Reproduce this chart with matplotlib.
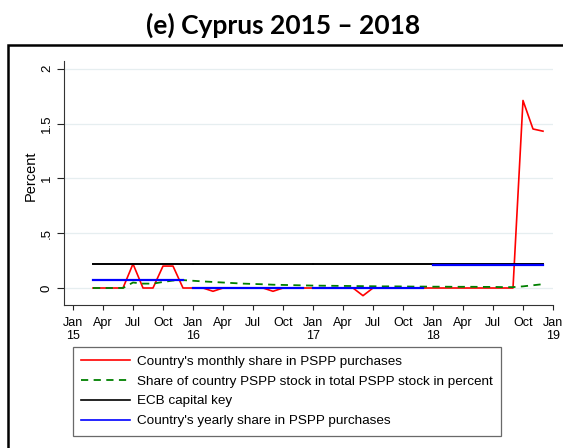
import matplotlib
matplotlib.use("Agg")
from matplotlib import pyplot as plt
from matplotlib.patches import Rectangle

# months counted from Jan 2015 (0 = Jan 15); data runs Mar 2015 .. Dec 2018
months = list(range(2, 48))

monthly_share = [0, 0, 0, 0, 0.22, 0, 0, 0.20, 0.20, 0,
                 0, 0, -0.03, 0, 0, 0, 0, 0, -0.03, 0, 0, 0,
                 0, 0, 0, 0, 0, -0.07, 0, 0, 0, 0, 0, 0,
                 0, 0, 0, 0, 0, 0, 0, 0, 0, 1.71, 1.45, 1.43]

stock_share = [0, 0, 0, 0, 0.05, 0.04, 0.04, 0.055, 0.068, 0.072,
               0.066, 0.06, 0.055, 0.05, 0.045, 0.04, 0.037, 0.034, 0.03, 0.028, 0.026, 0.024,
               0.022, 0.021, 0.02, 0.019, 0.018, 0.017, 0.016, 0.015, 0.015, 0.014, 0.013, 0.013,
               0.012, 0.012, 0.011, 0.011, 0.011, 0.01, 0.01, 0.008, 0.008, 0.015, 0.025, 0.035]

years = [2015, 2016, 2017, 2018]
year_start = [2, 12, 24, 36]
year_end = [11, 23, 35, 47]
ecb_key = [0.22, 0.22, 0.22, 0.22]
yearly_share = [0.07, 0.0, 0.0, 0.213]

tick_pos = list(range(0, 49, 3))
tick_labels = ["Jan\n15", "Apr", "Jul", "Oct", "Jan\n16", "Apr", "Jul", "Oct",
               "Jan\n17", "Apr", "Jul", "Oct", "Jan\n18", "Apr", "Jul", "Oct", "Jan\n19"]
y_ticks = [0, 0.5, 1, 1.5, 2]
y_labels = ["0", ".5", "1", "1.5", "2"]

plt.rcParams['font.family'] = ['Liberation Sans', 'DejaVu Sans']

fig = plt.figure(figsize=(5.63, 4.48), dpi=100)
W, H = 563, 448
ax = fig.add_axes([64 / W, 1 - 305 / H, (553 - 64) / W, (305 - 61) / H])

ax.plot(months, monthly_share, color='#ff0000', lw=1.2, zorder=3)
ax.plot(months, stock_share, color='#008000', lw=1.3, ls=(0, (4, 3)), zorder=3)
for s, e, v in zip(year_start, year_end, ecb_key):
    ax.plot([s, e + 1 if e < 47 else e], [v, v], color='black', lw=1.4, zorder=4)
for s, e, v in zip(year_start, year_end, yearly_share):
    ax.plot([s, e], [v, v], color='#0000ff', lw=1.6, zorder=5)

ax.set_xlim(-0.9, 48)
ax.set_ylim(-0.155, 2.07)
ax.set_xticks(tick_pos)
ax.set_xticklabels(tick_labels, fontsize=9, linespacing=1.15)
ax.set_yticks(y_ticks)
ax.set_yticklabels(y_labels, fontsize=9.5, rotation=90, va='center')
ax.tick_params(axis='x', length=3.5, width=0.8, pad=5, colors='#222222')
ax.tick_params(axis='y', length=5, width=0.8, pad=3, colors='#222222')
for lab in ax.get_xticklabels() + ax.get_yticklabels():
    lab.set_color('black')

ax.grid(axis='y', color='#e6eef0', lw=0.9, zorder=0)
ax.spines['top'].set_visible(False)
ax.spines['right'].set_visible(False)
ax.spines['left'].set_color('#333333')
ax.spines['bottom'].set_color('#333333')
ax.spines['left'].set_linewidth(0.8)
ax.spines['bottom'].set_linewidth(0.8)

ax.set_ylabel("Percent", fontsize=10.5)
ax.yaxis.set_label_coords(-0.053, 0.53)

handles = [
    plt.Line2D([], [], color='#ff0000', lw=1.2),
    plt.Line2D([], [], color='#008000', lw=1.3, ls=(0, (4, 3))),
    plt.Line2D([], [], color='black', lw=1.2),
    plt.Line2D([], [], color='#0000ff', lw=1.2),
]
names = ["Country's monthly share in PSPP purchases",
         "Share of country PSPP stock in total PSPP stock in percent",
         "ECB capital key",
         "Country's yearly share in PSPP purchases"]
leg = fig.legend(handles, names, loc='upper left', bbox_to_anchor=(73 / W, 1 - 347 / H),
                 fontsize=9.7, frameon=True, fancybox=False, handlelength=3.6,
                 handletextpad=0.55, labelspacing=0.55, borderpad=0.62, borderaxespad=0)
leg.get_frame().set_edgecolor('#444444')
leg.get_frame().set_linewidth(0.9)

fig.text(283 / W, 1 - 25 / H, "(e) Cyprus 2015 – 2018", ha='center', va='center',
         fontsize=19, fontweight='bold', family=['Lato', 'DejaVu Sans'])

fig.add_artist(Rectangle((8 / W, -0.1), 1.2, 1 - 45 / H + 0.1, transform=fig.transFigure,
                         fill=False, lw=1.8, edgecolor='black', clip_on=False))

plt.savefig("out.png", dpi=100)
